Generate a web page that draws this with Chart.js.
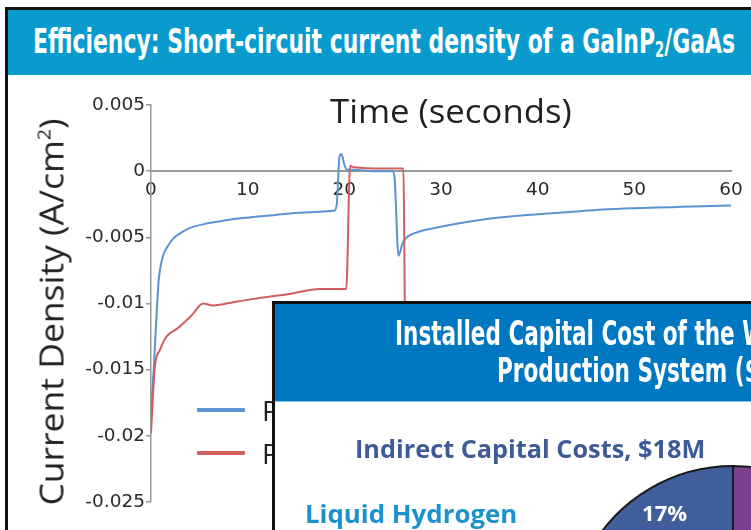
<!DOCTYPE html>
<html>
<head>
<meta charset="utf-8">
<script src="https://cdn.jsdelivr.net/npm/chart.js@4/dist/chart.umd.min.js"></script>
<style>
  html, body { margin: 0; padding: 0; }
  body { width: 751px; height: 530px; overflow: hidden; position: relative; background: #fff; font-family: "Open Sans", sans-serif; }
  .abs { position: absolute; white-space: nowrap; }
  .fit { display: inline-block; transform-origin: 0 50%; }
  #frame1 { left: 5px; top: 7px; width: 900px; height: 700px; border: 3px solid #111; box-sizing: border-box; }
  #head1 { left: 8px; top: 10px; width: 760px; height: 65px; background: #0a9bce; }
  #title1 { left: 33px; top: 24px; color: #fff; font: bold 34px/34px "Liberation Sans Narrow", "DejaVu Sans Condensed", sans-serif; }
  #title1 sub { font-size: 60%; vertical-align: -4px; line-height: 0; }
  #lineWrap { left: 0; top: 0; width: 751px; height: 530px; z-index: 1; }
  #xTitle { left: 330px; top: 95px; color: #222; font: 32px/32px "Open Sans", sans-serif; z-index: 1; }
  #yTitle { left: 51px; top: 312px; transform: translate(-50%, -50%) rotate(-90deg); color: #222; font: 33px/33px "Open Sans", sans-serif; z-index: 1; }
  #yTitle .fit { transform-origin: 50% 50%; }
  #yTitle sup { font-size: 55%; vertical-align: 13px; line-height: 0; }
  #legend { left: 197px; top: 388px; z-index: 1; }
  .lg-row { display: flex; align-items: center; height: 43px; }
  .lg-line { width: 48px; height: 4px; border-radius: 1px; }
  .lg-text { margin-left: 17px; font: 28px/28px "Open Sans", sans-serif; color: #222; }
  #panel2 { left: 272px; top: 301px; width: 700px; height: 400px; border: 3px solid #111; background: #fff; z-index: 2; overflow: hidden; }
  #head2 { left: 0; top: 0; width: 700px; height: 97px; background: #0077c1; border-bottom: 1px solid #8cc6e8; }
  .h2line { color: #fff; font: bold 33px/33px "Liberation Sans Narrow", "DejaVu Sans Condensed", sans-serif; }
  #indirect { left: 80px; top: 132px; color: #3e5b98; font: bold 25px/25px "Open Sans", sans-serif; }
  #liquid { left: 30px; top: 197px; color: #1a93cd; font: bold 25px/25px "Open Sans", sans-serif; }
  #pieWrap { left: 563px; top: 460px; width: 340px; height: 340px; z-index: 3; }
</style>
</head>
<body>
<div id="frame1" class="abs"></div>
<div id="head1" class="abs"></div>
<div id="title1" class="abs"><span class="fit" data-w="702">Efficiency: Short-circuit current density of a GaInP<sub>2</sub>/GaAs</span></div>

<div id="lineWrap" class="abs"><canvas id="lineChart" width="751" height="530"></canvas></div>
<div id="xTitle" class="abs"><span class="fit" data-w="242">Time (seconds)</span></div>
<div id="yTitle" class="abs"><span class="fit" data-w="387">Current Density (A/cm<sup>2</sup>)</span></div>
<div id="legend" class="abs"></div>

<div id="panel2" class="abs">
  <div id="head2" class="abs"></div>
  <div class="abs h2line" style="left:120px; top:13px;"><span class="fit" data-w="340"><span class="pre">Installed Capital Cost of the</span> Wind-Powered Hydrogen</span></div>
  <div class="abs h2line" style="left:222px; top:50px;"><span class="fit" data-w="248"><span class="pre">Production System (</span>$M)</span></div>
  <div id="indirect" class="abs"><span class="fit" data-w="350">Indirect Capital Costs, $18M</span></div>
  <div id="liquid" class="abs"><span class="fit" data-w="212">Liquid Hydrogen</span></div>
</div>
<div id="pieWrap" class="abs"><canvas id="pieChart" width="340" height="340"></canvas></div>

<script>
// current density traces (A/cm^2) vs time (s)
const seriesNames = ['Passivated', 'Pristine'];
const seriesColors = ['#5d93d3', '#d0605f'];

const blueTime = [0, 0.3, 0.6, 0.8, 1.1, 1.4, 1.8, 2.3, 3, 4, 5.5, 7, 9, 10.6, 12, 14, 16, 18.9, 19.2, 19.5, 19.7, 20.0, 20.3, 21, 23, 25.0, 25.2, 25.6, 26.0, 26.3, 27.2, 29.6, 33, 36, 40, 43, 46.8, 50, 53.8, 57, 60];
const blueCurrent = [-0.0182, -0.0147, -0.0105, -0.0082, -0.0068, -0.0061, -0.0056, -0.0051, -0.0047, -0.0043, -0.0040, -0.0038, -0.00358, -0.00346, -0.00337, -0.00322, -0.00312, -0.0030, -0.0026, 0.0011, 0.0013, 0.0005, 0.0001, 0.0001, 0.0000, 0.0000, -0.0005, -0.0064, -0.0055, -0.0051, -0.0047, -0.00426, -0.0038, -0.0035, -0.00325, -0.0031, -0.0029, -0.0028, -0.00272, -0.00265, -0.0026];

const redTime = [0, 0.4, 0.93, 1.6, 2.7, 4.2, 5.4, 6.4, 7.1, 8.5, 10.6, 14.1, 17.5, 20.2, 20.6, 21, 24, 26.1, 26.4, 27, 28, 30, 35, 40, 50, 60];
const redCurrent = [-0.0198, -0.0148, -0.0135, -0.0125, -0.0119, -0.0109, -0.0100, -0.01015, -0.0101, -0.0099, -0.00965, -0.0093, -0.0089, -0.0089, 0.0004, 0.0003, 0.0002, 0.0002, -0.0195, -0.0160, -0.0140, -0.0128, -0.0120, -0.0115, -0.0110, -0.0106];

const timeTicks = [0, 10, 20, 30, 40, 50, 60];
const currentTicks = [0.005, 0, -0.005, -0.01, -0.015, -0.02, -0.025];

// pie: indirect capital cost shares (%)
const pieLabels = ['Other', 'Liquid Hydrogen'];
const pieShares = [83, 17];
const pieColors = ['#7b3f8b', '#3f5e9b'];

const toPoints = (xs, ys) => xs.map((x, i) => ({ x, y: ys[i] }));

const tickFont = { family: 'DejaVu Sans', size: 18.5 };

new Chart(document.getElementById('lineChart'), {
  type: 'line',
  data: {
    datasets: [
      { label: seriesNames[0], data: toPoints(blueTime, blueCurrent), borderColor: seriesColors[0], borderWidth: 2, pointRadius: 0, cubicInterpolationMode: 'monotone', order: 1 },
      { label: seriesNames[1], data: toPoints(redTime, redCurrent), borderColor: seriesColors[1], borderWidth: 2, pointRadius: 0, cubicInterpolationMode: 'monotone', order: 0 }
    ]
  },
  options: {
    responsive: false,
    animation: false,
    devicePixelRatio: 1,
    layout: { padding: { top: 105, right: 20, bottom: 28, left: 0 } },
    plugins: { legend: { display: false }, tooltip: { enabled: false } },
    scales: {
      x: {
        type: 'linear',
        position: { y: 0 },
        min: timeTicks[0],
        max: timeTicks[timeTicks.length - 1],
        afterBuildTicks: s => { s.ticks = timeTicks.map(v => ({ value: v })); },
        ticks: { font: tickFont, color: '#2a2a2a', padding: 8, maxRotation: 0 },
        grid: { drawOnChartArea: false, drawTicks: false },
        border: { color: '#999', width: 2 }
      },
      y: {
        min: currentTicks[currentTicks.length - 1],
        max: currentTicks[0],
        afterBuildTicks: s => { s.ticks = currentTicks.map(v => ({ value: v })); },
        ticks: { font: tickFont, color: '#2a2a2a', padding: 1, callback: v => String(+v.toFixed(3)) },
        grid: { drawOnChartArea: false, tickLength: 5, color: '#999', lineWidth: 1.5 },
        border: { color: '#999', width: 1.5 },
        afterFit: s => { s.width = 151; }
      }
    }
  }
});

// legend from the datasets
const legend = document.getElementById('legend');
seriesNames.forEach((name, i) => {
  const row = document.createElement('div');
  row.className = 'lg-row';
  row.innerHTML = `<span class="lg-line" style="background:${seriesColors[i]}"></span><span class="lg-text">${name}</span>`;
  legend.appendChild(row);
});

const sliceLabel = {
  id: 'sliceLabel',
  afterDatasetsDraw(chart) {
    const ctx = chart.ctx;
    const meta = chart.getDatasetMeta(0);
    ctx.save();
    ctx.fillStyle = '#fff';
    ctx.font = 'bold 22px "Open Sans"';
    ctx.textAlign = 'center';
    ctx.textBaseline = 'middle';
    meta.data.forEach((arc, i) => {
      if (i !== 1) return;
      const { x, y, startAngle, endAngle, outerRadius } = arc.getProps(['x', 'y', 'startAngle', 'endAngle', 'outerRadius'], true);
      const mid = (startAngle + endAngle) / 2;
      const r = outerRadius * 0.82;
      ctx.fillText(pieShares[i] + '%', x + Math.cos(mid) * r, y + Math.sin(mid) * r);
    });
    ctx.restore();
  }
};

new Chart(document.getElementById('pieChart'), {
  type: 'pie',
  data: {
    labels: pieLabels,
    datasets: [{ data: pieShares, backgroundColor: pieColors, borderColor: '#1a1a1a', borderWidth: 2, radius: 164 }]
  },
  options: {
    responsive: false,
    animation: false,
    devicePixelRatio: 1,
    plugins: { legend: { display: false }, tooltip: { enabled: false } }
  },
  plugins: [sliceLabel]
});

// squeeze text to the widths seen in the poster (layout width, before transforms)
document.querySelectorAll('.fit').forEach(el => {
  const ref = el.querySelector('.pre') || el;
  el.style.transform = `scaleX(${el.dataset.w / ref.offsetWidth})`;
});
</script>
</body>
</html>
